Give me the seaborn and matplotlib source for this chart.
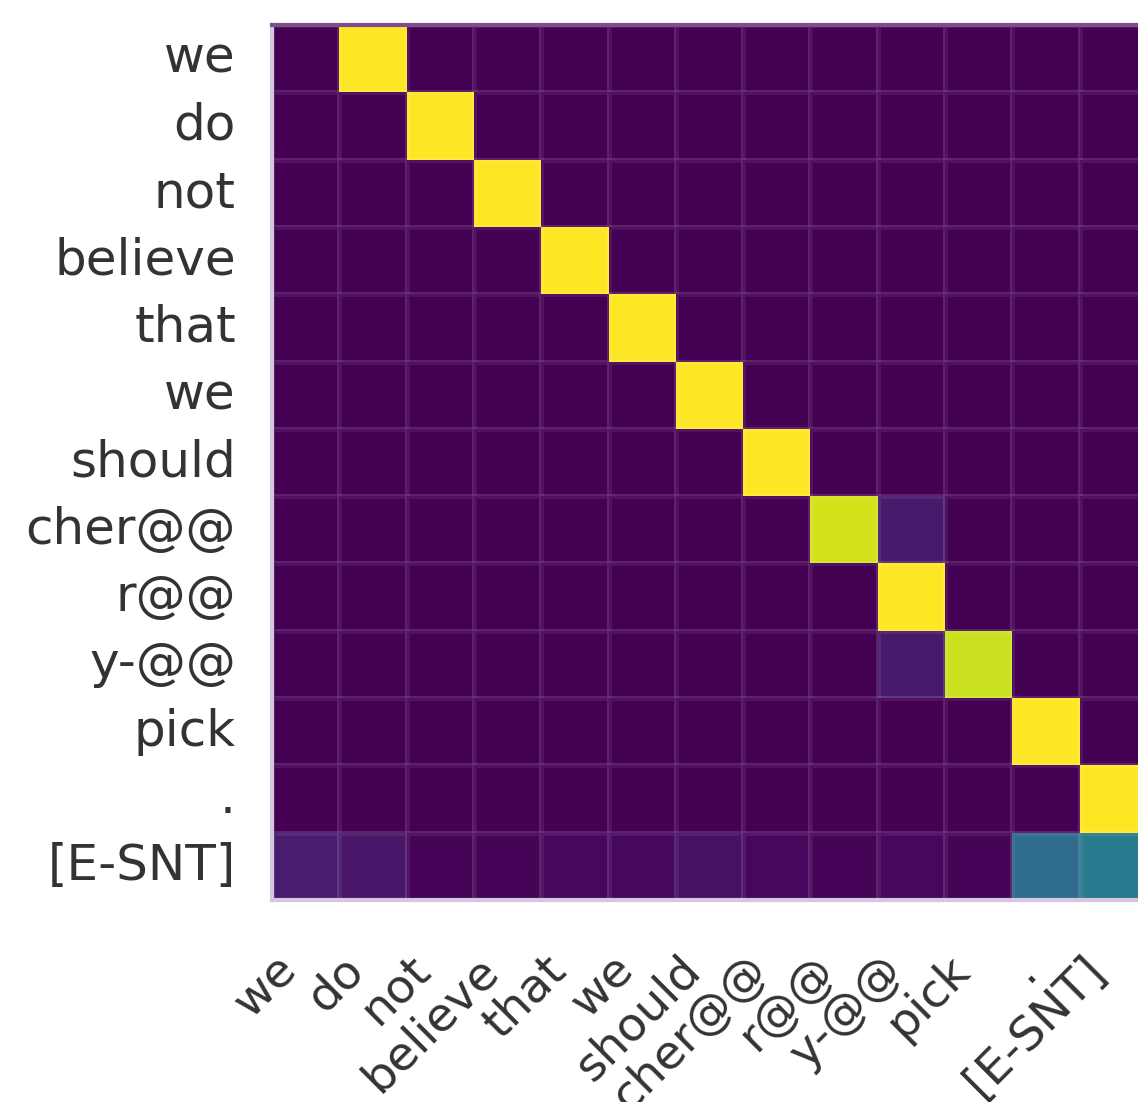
import seaborn as sns
import matplotlib.pyplot as plt
import numpy as np
import pandas as pd

# source tokens (rows) and target tokens (columns)
row_tokens = ['we', 'do', 'not', 'believe', 'that', 'we', 'should',
              'cher@@', 'r@@', 'y-@@', 'pick', '.', '[E-SNT]']
col_tokens = ['we', 'do', 'not', 'believe', 'that', 'we', 'should',
              'cher@@', 'r@@', 'y-@@', 'pick', '.', '[E-SNT]']

# attention weights, one list per row token
w_we      = [0.00, 1.00, 0.00, 0.00, 0.00, 0.00, 0.00, 0.00, 0.00, 0.00, 0.00, 0.00, 0.00]
w_do      = [0.00, 0.00, 1.00, 0.00, 0.00, 0.00, 0.00, 0.00, 0.00, 0.00, 0.00, 0.00, 0.00]
w_not     = [0.00, 0.00, 0.00, 1.00, 0.00, 0.00, 0.00, 0.00, 0.00, 0.00, 0.00, 0.00, 0.00]
w_believe = [0.00, 0.00, 0.00, 0.00, 1.00, 0.00, 0.00, 0.00, 0.00, 0.00, 0.00, 0.00, 0.00]
w_that    = [0.00, 0.00, 0.00, 0.00, 0.00, 1.00, 0.00, 0.00, 0.00, 0.00, 0.00, 0.00, 0.00]
w_we2     = [0.00, 0.00, 0.00, 0.00, 0.00, 0.00, 1.00, 0.00, 0.00, 0.00, 0.00, 0.00, 0.00]
w_should  = [0.00, 0.00, 0.00, 0.00, 0.00, 0.00, 0.00, 1.00, 0.00, 0.00, 0.00, 0.00, 0.00]
w_cher    = [0.00, 0.00, 0.00, 0.00, 0.00, 0.00, 0.00, 0.00, 0.93, 0.07, 0.00, 0.00, 0.00]
w_r       = [0.00, 0.00, 0.00, 0.00, 0.00, 0.00, 0.00, 0.00, 0.00, 1.00, 0.00, 0.00, 0.00]
w_y       = [0.00, 0.00, 0.00, 0.00, 0.00, 0.00, 0.00, 0.00, 0.00, 0.07, 0.92, 0.00, 0.00]
w_pick    = [0.00, 0.00, 0.00, 0.00, 0.00, 0.00, 0.00, 0.00, 0.00, 0.00, 0.00, 1.00, 0.00]
w_dot     = [0.00, 0.00, 0.00, 0.00, 0.00, 0.00, 0.00, 0.00, 0.00, 0.00, 0.00, 0.00, 1.00]
w_esnt    = [0.08, 0.06, 0.01, 0.01, 0.02, 0.02, 0.04, 0.02, 0.01, 0.02, 0.01, 0.35, 0.41]

weights = pd.DataFrame([w_we, w_do, w_not, w_believe, w_that, w_we2, w_should,
                        w_cher, w_r, w_y, w_pick, w_dot, w_esnt])

fig = plt.figure(figsize=(11.38, 11.02), dpi=100)
ax = fig.add_axes([272 / 1138, 202 / 1102, 875 / 1138, 875 / 1102])

sns.heatmap(weights, cmap='viridis', vmin=0, vmax=1, cbar=False, square=False,
            linewidths=3.5, linecolor=(1, 1, 1, 0.07), ax=ax)

ax.set_xticks(np.arange(len(col_tokens)) + 0.5)
ax.set_yticks(np.arange(len(row_tokens)) + 0.5)
ax.set_xticklabels(col_tokens, rotation=45, ha='right', fontsize=34, color='#333333')
ax.set_yticklabels(row_tokens, rotation=0, fontsize=36, color='#333333')
ax.tick_params(axis='y', length=0, pad=26)
ax.tick_params(axis='x', length=0, pad=34)

# faint frame left by the resampled original
for side in ['left', 'bottom']:
    ax.spines[side].set_visible(True)
    ax.spines[side].set_color('#d6c6de')
    ax.spines[side].set_linewidth(3)
ax.spines['top'].set_visible(True)
ax.spines['top'].set_color('#7a4f8a')
ax.spines['top'].set_linewidth(3)

fig.savefig('out.png', dpi=100)
